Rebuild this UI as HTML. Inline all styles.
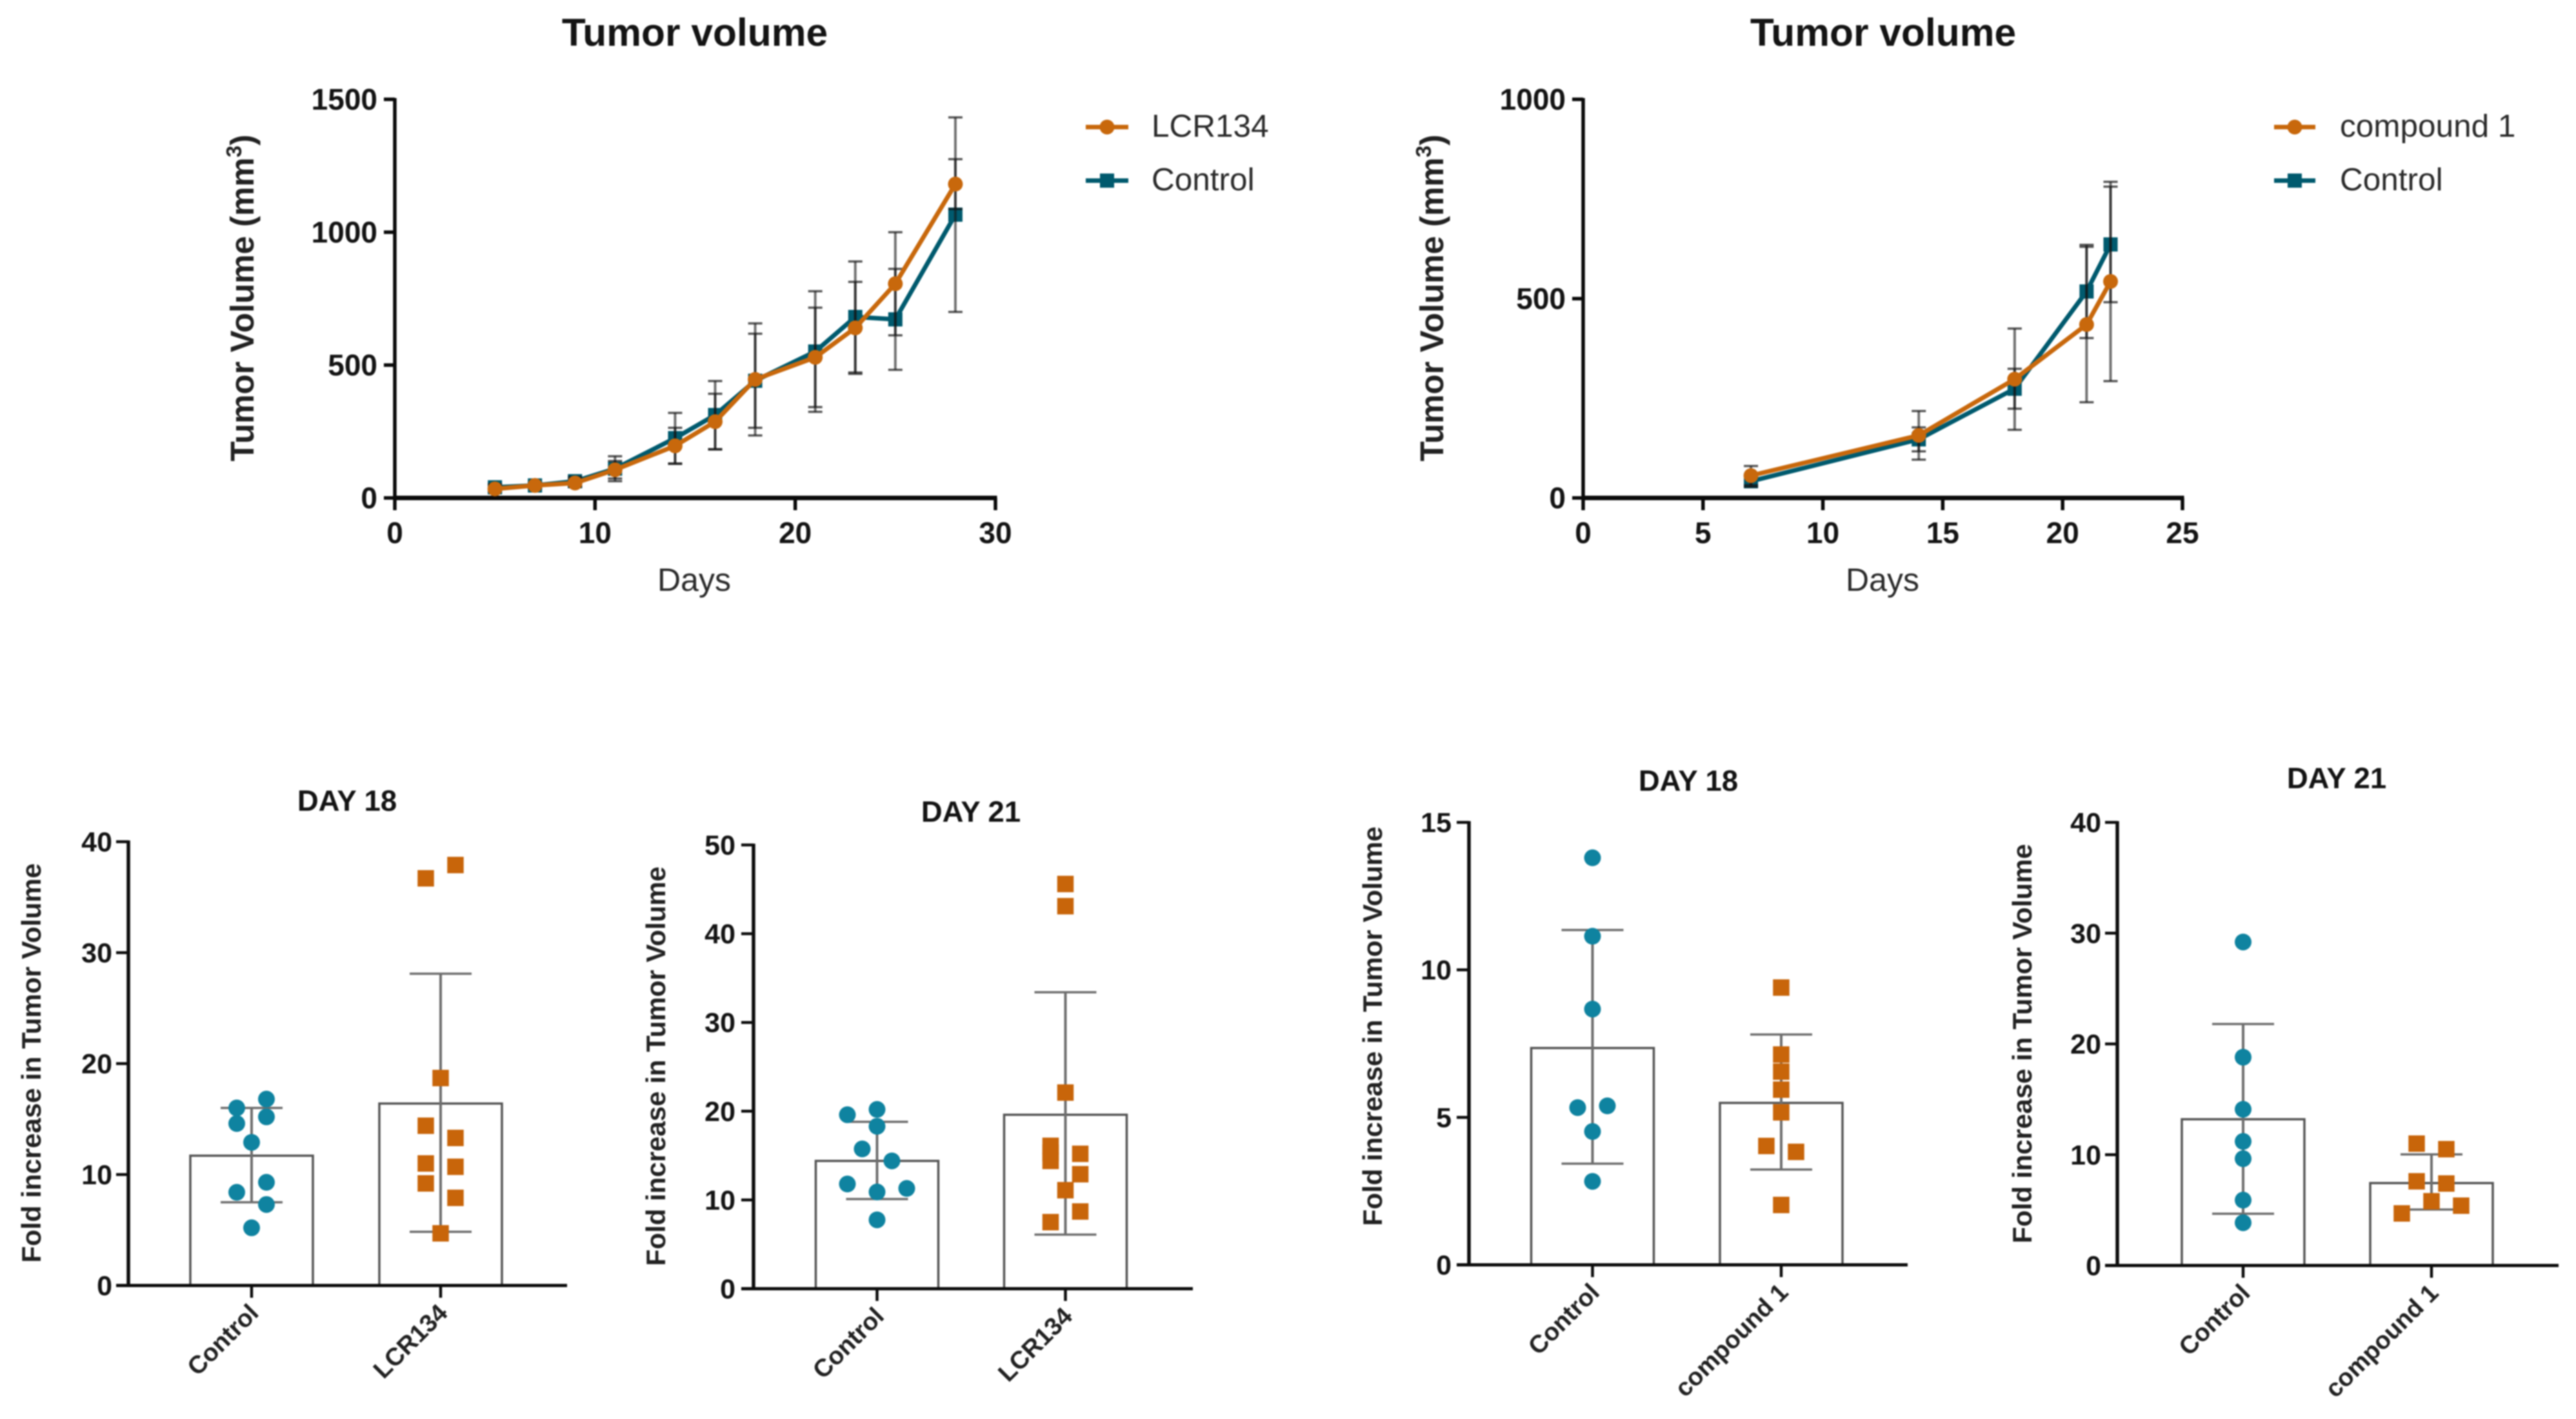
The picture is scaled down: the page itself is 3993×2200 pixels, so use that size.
<!DOCTYPE html>
<html lang="en">
<head>
<meta charset="utf-8">
<title>Tumor volume charts</title>
<style>
html,body{margin:0;padding:0;background:#fff;}
svg{display:block;filter:blur(1px);}
text{font-family:"Liberation Sans",Arial,sans-serif;fill:#141414;}
.title{font-weight:700;font-size:60.5px;text-anchor:middle;}
.sub{font-weight:700;font-size:45.5px;text-anchor:middle;}
.ytitle{font-weight:700;font-size:51px;text-anchor:middle;fill:#222;}
.ftitle{font-weight:700;font-size:42px;text-anchor:middle;fill:#222;}
.xtitle{font-size:50px;text-anchor:middle;fill:#2b2b2b;}
.legend{font-size:49.5px;fill:#2b2b2b;}
.tick{font-weight:700;font-size:46px;}
.btick{font-weight:700;font-size:43px;}
.cat{font-weight:700;font-size:38.5px;fill:#222;}
</style>
</head>
<body>
<svg id="fig" xmlns="http://www.w3.org/2000/svg" width="3993" height="2200" viewBox="0 0 3993 2200">
  <rect x="0" y="0" width="3993" height="2200" fill="#fff"/>

  <g id="lineA">
    <text class="title" x="1077" y="71">Tumor volume</text>
    <text class="ytitle" transform="translate(393,462) rotate(-90)">Tumor Volume (mm<tspan font-size="33" dy="-19">3</tspan><tspan dy="19">)</tspan></text>
    <text class="xtitle" x="1076" y="916">Days</text>
    <text class="legend" x="1785" y="212">LCR134</text>
    <text class="legend" x="1785" y="295">Control</text>
  </g>

  <g id="lineB">
    <text class="title" x="2919" y="71">Tumor volume</text>
    <text class="ytitle" transform="translate(2237,462) rotate(-90)">Tumor Volume (mm<tspan font-size="33" dy="-19">3</tspan><tspan dy="19">)</tspan></text>
    <text class="xtitle" x="2918" y="916">Days</text>
    <text class="legend" x="3627" y="212">compound 1</text>
    <text class="legend" x="3627" y="295">Control</text>
  </g>

  <g id="barA">
    <text class="sub" x="538" y="1257">DAY 18</text>
    <text class="ftitle" transform="translate(63,1648) rotate(-90)">Fold increase in Tumor Volume</text>
  </g>
  <g id="barB">
    <text class="sub" x="1505" y="1274">DAY 21</text>
    <text class="ftitle" transform="translate(1031,1653) rotate(-90)">Fold increase in Tumor Volume</text>
  </g>
  <g id="barC">
    <text class="sub" x="2617" y="1226">DAY 18</text>
    <text class="ftitle" transform="translate(2142,1591) rotate(-90)">Fold increase in Tumor Volume</text>
  </g>
  <g id="barD">
    <text class="sub" x="3622" y="1222">DAY 21</text>
    <text class="ftitle" transform="translate(3149,1618) rotate(-90)">Fold increase in Tumor Volume</text>
  </g>
</svg>

<script>
// ---- Line chart A data (LCR134) ----
const daysA = [5, 7, 9, 11, 14, 16, 18, 21, 23, 25, 28];
const lcrMean = [34, 47, 56, 106, 196, 287, 446, 529, 640, 806, 1181];
const lcrSd = [10, 8, 14, 33, 68, 105, 211, 187, 173, 194, 94];
const ctlMeanA = [40, 47, 63, 110, 225, 312, 441, 551, 681, 672, 1066];
const ctlSdA = [12, 10, 16, 47, 95, 128, 177, 227, 209, 190, 366];
const xTicksA = [0, 10, 20, 30];
const yTicksA = [0, 500, 1000, 1500];

// ---- Line chart B data (compound 1) ----
const daysB = [7, 14, 18, 21, 22];
const cmpMean = [56, 157, 298, 435, 543];
const cmpSd = [24, 61, 127, 195, 250];
const ctlMeanB = [42, 147, 274, 518, 636];
const ctlSdB = [14, 30, 50, 117, 145];
const xTicksB = [0, 5, 10, 15, 20, 25];
const yTicksB = [0, 500, 1000];

// ---- Bar chart data: LCR134 day 18 ----
const catsA = ["Control", "LCR134"];
const d18ctlVals = [16.0, 16.8, 14.6, 15.2, 12.9, 9.3, 8.4, 7.3, 5.2];
const d18ctlSlots = [-1, 1, -1, 1, 0, 1, -1, 1, 0];
const d18lcrVals = [36.7, 37.9, 18.7, 14.4, 13.3, 11.0, 10.7, 9.2, 7.9, 4.7];
const d18lcrSlots = [-1, 1, 0, -1, 1, -1, 1, -1, 1, 0];
const d18means = [11.7, 16.4];
const d18hi = [16.0, 28.1];
const d18lo = [7.5, 4.84];
const d18ticks = [0, 10, 20, 30, 40];

// ---- Bar chart data: LCR134 day 21 ----
const d21ctlVals = [19.6, 20.2, 18.3, 15.75, 14.4, 11.8, 10.9, 11.3, 7.76];
const d21ctlSlots = [-2, 0, 0, -1, 1, -2, 0, 2, 0];
const d21lcrVals = [45.6, 43.1, 22.1, 16.1, 15.3, 14.4, 15.2, 12.9, 11.1, 8.7, 7.5];
const d21lcrSlots = [0, 0, 0, -1, -1, -1, 1, 1, 0, 1, -1];
const d21means = [14.4, 19.6];
const d21hi = [18.8, 33.4];
const d21lo = [10.1, 6.1];
const d21ticks = [0, 10, 20, 30, 40, 50];

// ---- Bar chart data: compound 1 day 18 ----
const catsB = ["Control", "compound 1"];
const c18ctlVals = [13.8, 11.14, 8.67, 5.33, 5.39, 4.52, 2.83];
const c18ctlSlots = [0, 0, 0, -1, 1, 0, 0];
const c18cmpVals = [9.4, 7.13, 6.55, 5.94, 5.17, 4.03, 3.83, 2.03];
const c18cmpSlots = [0, 0, 0, 0, 0, -1, 1, 0];
const c18means = [7.35, 5.49];
const c18hi = [11.35, 7.81];
const c18lo = [3.43, 3.23];
const c18ticks = [0, 5, 10, 15];

// ---- Bar chart data: compound 1 day 21 ----
const c21ctlVals = [29.2, 18.8, 14.1, 11.2, 9.64, 5.9, 3.86];
const c21ctlSlots = [0, 0, 0, 0, 0, 0, 0];
const c21cmpVals = [11.0, 10.5, 7.6, 7.4, 5.8, 5.4, 4.7];
const c21cmpSlots = [-1, 1, -1, 1, 0, 2, -2];
const c21means = [13.2, 7.44];
const c21hi = [21.8, 10.03];
const c21lo = [4.67, 5.05];
const c21ticks = [0, 10, 20, 30, 40];

const NS = "http://www.w3.org/2000/svg";
const ORANGE = "#c8680c";
const TEAL_DARK = "#005a6e";
const TEAL_DOT = "#0f83a0";
const ORANGE_DOT = "#c8650a";

function mk(tag, attrs, parent) {
  const e = document.createElementNS(NS, tag);
  for (const k in attrs) e.setAttribute(k, attrs[k]);
  parent.appendChild(e);
  return e;
}
function scale(d0, d1, r0, r1) {
  return v => r0 + (v - d0) * (r1 - r0) / (d1 - d0);
}
function drawLine(parent, x1, y1, x2, y2, color, w, name) {
  const l = mk("line", {x1: x1, y1: y1, x2: x2, y2: y2, stroke: color, "stroke-width": w}, parent);
  
  
  return l;
}
function drawText(parent, cls, x, y, str, anchor, name) {
  const t = mk("text", {class: cls, x: x, y: y, "text-anchor": anchor}, parent);
  t.textContent = str;
  
  
  return t;
}
function drawCircle(parent, cx, cy, r, color, name) {
  const c = mk("circle", {cx: cx, cy: cy, r: r, fill: color}, parent);
  
  
  return c;
}
function drawSquare(parent, cx, cy, s, color, name) {
  const r = mk("rect", {x: cx - s / 2, y: cy - s / 2, width: s, height: s, fill: color}, parent);
  
  
  return r;
}
function drawPolyline(parent, xs, ys, sx, sy, color, name) {
  const pts = xs.map((d, i) => sx(d) + "," + sy(ys[i])).join(" ");
  const p = mk("polyline", {points: pts, fill: "none", stroke: color, "stroke-width": 7, "stroke-linejoin": "round"}, parent);
  
  
}
function drawErrors(parent, xs, means, sds, sx, sy, name) {
  xs.forEach((d, i) => {
    const x = sx(d), hi = sy(means[i] + sds[i]), lo = sy(means[i] - sds[i]);
    drawLine(parent, x, hi, x, lo, "rgba(20,20,20,.6)", 4, name + "-stem");
    drawLine(parent, x - 11, hi, x + 11, hi, "rgba(20,20,20,.7)", 3.5, name + "-cap-upper");
    drawLine(parent, x - 11, lo, x + 11, lo, "rgba(20,20,20,.7)", 3.5, name + "-cap-lower");
  });
}

function lineChart(id, o) {
  const g = document.getElementById(id);
  const sx = scale(o.xDomain[0], o.xDomain[1], o.x0, o.x1);
  const sy = scale(o.yDomain[0], o.yDomain[1], o.y0, o.y1);
  drawLine(g, o.x0, o.y0, o.x1 + 2.5, o.y0, "#0a0a0a", 7, "x-axis-line");
  drawLine(g, o.x0, o.y0 + 3, o.x0, o.y1 - 2, "#0a0a0a", 5.5, "y-axis-line");
  o.xTicks.forEach(t => {
    drawLine(g, sx(t), o.y0, sx(t), o.y0 + 19, "#0a0a0a", 5.5, "x-tick");
    drawText(g, "tick", sx(t), o.y0 + 70, String(t), "middle", "x-tick-label");
  });
  o.yTicks.forEach(t => {
    drawLine(g, o.x0 - 17, sy(t), o.x0, sy(t), "#0a0a0a", 5.5, "y-tick");
    drawText(g, "tick", o.x0 - 27, sy(t) + 16, String(t), "end", "y-tick-label");
  });
  drawPolyline(g, o.days, o.ctlMean, sx, sy, TEAL_DARK, "control-line");
  o.days.forEach((d, i) => {
    drawSquare(g, sx(d), sy(o.ctlMean[i]), 22, TEAL_DARK, "control-marker");
  });
  drawErrors(g, o.days, o.ctlMean, o.ctlSd, sx, sy, "control-error");
  drawErrors(g, o.days, o.trtMean, o.trtSd, sx, sy, "treated-error");
  drawPolyline(g, o.days, o.trtMean, sx, sy, ORANGE, "treated-line");
  o.days.forEach((d, i) => {
    drawCircle(g, sx(d), sy(o.trtMean[i]), 11.5, ORANGE, "treated-marker");
  });
  // legend keys
  drawLine(g, o.legX0, 197, o.legX1, 197, ORANGE, 7, "legend-key-line-treated");
  drawCircle(g, (o.legX0 + o.legX1) / 2, 197, 11.5, ORANGE, "legend-key-marker-treated");
  drawLine(g, o.legX0, 280, o.legX1, 280, TEAL_DARK, 7, "legend-key-line-control");
  drawSquare(g, (o.legX0 + o.legX1) / 2, 280, 22, TEAL_DARK, "legend-key-marker-control");
}

function barChart(id, o) {
  const g = document.getElementById(id);
  const sy = scale(0, o.yMax, o.y0, o.y1);
  const slotStep = 23, barW = 190, capHalf = 48;
  o.cats.forEach((c, i) => {
    const cx = o.cx[i];
    const top = sy(o.means[i]);
    const b = mk("rect", {x: cx - barW / 2, y: top, width: barW, height: o.y0 - top, fill: "#fff", stroke: "#555", "stroke-width": 3.5}, g);
    
    
  });
  drawLine(g, o.ax - 19, o.y0, o.xEnd, o.y0, "#0d0d0d", 5, "x-axis-line");
  drawLine(g, o.ax, o.y0 + 2, o.ax, o.y1 - 2, "#0d0d0d", 5.5, "y-axis-line");
  o.ticks.forEach(t => {
    drawLine(g, o.ax - 19, sy(t), o.ax, sy(t), "#0d0d0d", 4.5, "y-tick");
    drawText(g, "btick", o.labelX, sy(t) + 15, String(t), "end", "y-tick-label");
  });
  o.cats.forEach((c, i) => {
    const cx = o.cx[i];
    drawLine(g, cx, o.y0, cx, o.y0 + 19, "#0d0d0d", 4.5, "x-tick");
    const t = drawText(g, "cat", cx + 13, o.y0 + 45, c, "end", "category-label");
    t.setAttribute("transform", "rotate(-45 " + (cx + 13) + " " + (o.y0 + 45) + ")");
    const hi = sy(o.hi[i]), lo = sy(o.lo[i]);
    drawLine(g, cx, hi, cx, lo, "#6e6e6e", 4, "error-stem");
    drawLine(g, cx - capHalf, hi, cx + capHalf, hi, "#6e6e6e", 3.5, "error-cap-upper");
    drawLine(g, cx - capHalf, lo, cx + capHalf, lo, "#6e6e6e", 3.5, "error-cap-lower");
  });
  o.ctlVals.forEach((v, i) => {
    drawCircle(g, o.cx[0] + o.ctlSlots[i] * slotStep, sy(v), 13, TEAL_DOT, "control-point");
  });
  o.trtVals.forEach((v, i) => {
    drawSquare(g, o.cx[1] + o.trtSlots[i] * slotStep, sy(v), 25.5, ORANGE_DOT, "treated-point");
  });
}

lineChart("lineA", {days: daysA, trtMean: lcrMean, trtSd: lcrSd, ctlMean: ctlMeanA, ctlSd: ctlSdA,
  xTicks: xTicksA, yTicks: yTicksA, xDomain: [0, 30], yDomain: [0, 1500],
  x0: 612, x1: 1543, y0: 772, y1: 154, legX0: 1683, legX1: 1749});
lineChart("lineB", {days: daysB, trtMean: cmpMean, trtSd: cmpSd, ctlMean: ctlMeanB, ctlSd: ctlSdB,
  xTicks: xTicksB, yTicks: yTicksB, xDomain: [0, 25], yDomain: [0, 1000],
  x0: 2454, x1: 3383, y0: 772, y1: 154, legX0: 3525, legX1: 3589});

barChart("barA", {cats: catsA, means: d18means, hi: d18hi, lo: d18lo, ticks: d18ticks, yMax: 40,
  ctlVals: d18ctlVals, ctlSlots: d18ctlSlots, trtVals: d18lcrVals, trtSlots: d18lcrSlots,
  ax: 199, xEnd: 879, y0: 1993, y1: 1305, cx: [390, 683], labelX: 174});
barChart("barB", {cats: catsA, means: d21means, hi: d21hi, lo: d21lo, ticks: d21ticks, yMax: 50,
  ctlVals: d21ctlVals, ctlSlots: d21ctlSlots, trtVals: d21lcrVals, trtSlots: d21lcrSlots,
  ax: 1168, xEnd: 1849, y0: 1998, y1: 1310, cx: [1359.5, 1651.5], labelX: 1140});
barChart("barC", {cats: catsB, means: c18means, hi: c18hi, lo: c18lo, ticks: c18ticks, yMax: 15,
  ctlVals: c18ctlVals, ctlSlots: c18ctlSlots, trtVals: c18cmpVals, trtSlots: c18cmpSlots,
  ax: 2277, xEnd: 2957, y0: 1961, y1: 1275, cx: [2468.5, 2761], labelX: 2250});
barChart("barD", {cats: catsB, means: c21means, hi: c21hi, lo: c21lo, ticks: c21ticks, yMax: 40,
  ctlVals: c21ctlVals, ctlSlots: c21ctlSlots, trtVals: c21cmpVals, trtSlots: c21cmpSlots,
  ax: 3282, xEnd: 3966, y0: 1962, y1: 1275, cx: [3477, 3769], labelX: 3257});
</script>
</body>
</html>
